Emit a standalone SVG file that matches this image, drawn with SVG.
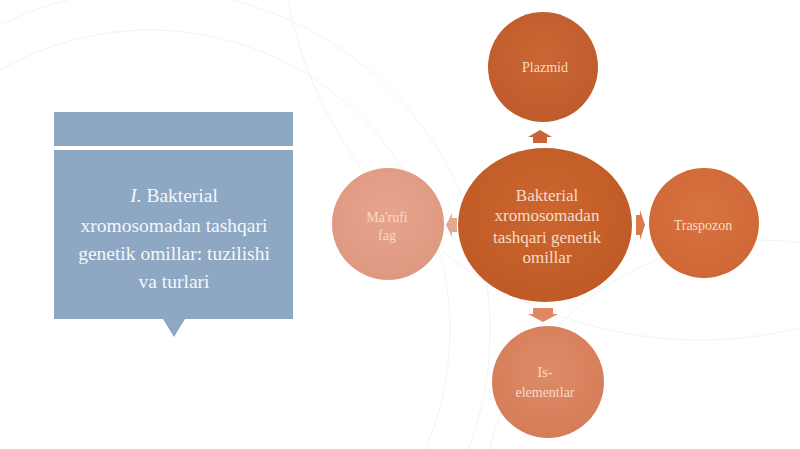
<svg xmlns="http://www.w3.org/2000/svg" width="800" height="449" viewBox="0 0 800 449">
<defs>
<style>
.t{font-family:"Liberation Serif","DejaVu Serif",serif;text-anchor:middle;}
.ct{fill:#F6DCC4;font-size:17px;}
.st{fill:#F6DCC4;font-size:14px;}
.bt{fill:#F4F7FA;font-size:19.5px;}
.bg{fill:none;stroke:#F3F3F5;stroke-width:1;}
</style>
<radialGradient id="gc" cx="50%" cy="40%" r="60%"><stop offset="0" stop-color="#CC6630"/><stop offset="1" stop-color="#BF5A26"/></radialGradient>
<radialGradient id="gp" cx="50%" cy="40%" r="60%"><stop offset="0" stop-color="#CA6534"/><stop offset="1" stop-color="#C05B2B"/></radialGradient>
<radialGradient id="gt" cx="50%" cy="40%" r="60%"><stop offset="0" stop-color="#D87241"/><stop offset="1" stop-color="#CF6836"/></radialGradient>
<radialGradient id="gi" cx="50%" cy="40%" r="60%"><stop offset="0" stop-color="#DE8B68"/><stop offset="1" stop-color="#D67C58"/></radialGradient>
<radialGradient id="gm" cx="50%" cy="40%" r="60%"><stop offset="0" stop-color="#E6A48E"/><stop offset="1" stop-color="#DF9880"/></radialGradient>
</defs>
<rect width="800" height="449" fill="#FFFFFF"/>
<g id="background">
<circle class="bg" cx="150" cy="330" r="300"/>
<circle class="bg" cx="150" cy="330" r="340"/>
<circle class="bg" cx="700" cy="-80" r="420"/>
<circle class="bg" cx="760" cy="520" r="280"/>
</g>
<g id="title-box">
<rect x="54" y="112" width="239" height="34" fill="#8EA8C3"/>
<rect x="54" y="150" width="239" height="169" fill="#8EA8C3"/>
<polygon points="163,319 185,319 174,337" fill="#8EA8C3"/>
<text class="t bt" x="174" y="202"><tspan font-style="italic">I.</tspan> Bakterial</text>
<text class="t bt" x="174" y="232">xromosomadan tashqari</text>
<text class="t bt" x="174" y="260">genetik omillar: tuzilishi</text>
<text class="t bt" x="174" y="288">va turlari</text>
</g>
<g id="connectors">
<polygon points="533,143 533,137 528,137 540,130 552,137 547,137 547,143" fill="#C86438"/>
<polygon points="533,308 533,314 528,314 543,322 558,314 553,314 553,308" fill="#DE8964"/>
<polygon points="457,218 452,218 452,213 446,225 452,237 452,232 457,232" fill="#E6A896"/>
<polygon points="636,215 640,215 640,210 645,225 640,240 640,235 636,235" fill="#D9784A"/>
</g>
<g id="center">
<ellipse cx="545" cy="225" rx="87" ry="77" fill="url(#gc)"/>
<text class="t ct" x="547" y="201">Bakterial</text>
<text class="t ct" x="547" y="221">xromosomadan</text>
<text class="t ct" x="547" y="243">tashqari genetik</text>
<text class="t ct" x="547" y="263">omillar</text>
</g>
<g id="plazmid">
<circle cx="543" cy="67" r="55" fill="url(#gp)"/>
<text class="t st" x="545" y="72">Plazmid</text>
</g>
<g id="traspozon">
<circle cx="704" cy="223" r="55" fill="url(#gt)"/>
<text class="t st" x="703" y="230">Traspozon</text>
</g>
<g id="is-elementlar">
<circle cx="548" cy="382" r="56" fill="url(#gi)"/>
<text class="t st" x="545" y="377">Is-</text>
<text class="t st" x="545" y="397">elementlar</text>
</g>
<g id="marufi-fag">
<circle cx="388" cy="224" r="56" fill="url(#gm)"/>
<text class="t st" x="387" y="222" fill="#F3CDB8">Ma'rufi</text>
<text class="t st" x="387" y="240" fill="#F3CDB8">fag</text>
</g>
</svg>
